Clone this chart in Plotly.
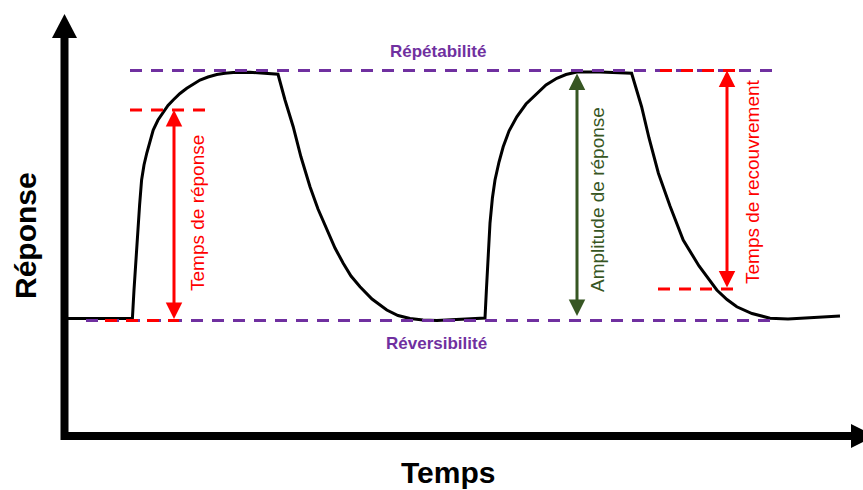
import plotly.graph_objects as go

# ---- sensor response over two exposure cycles (time in s, response in % of full amplitude)
time_s = [0.5, 17.1, 17.5, 17.9, 18.25, 18.9, 19.4, 20.0, 20.7, 21.5, 22.3, 23.5, 24.8, 26.0,
          27.3, 29.0, 30.7, 32.25, 34.0, 36.0, 38.2, 40.25, 42.3, 46.5, 50.25, 53.5,
          55.25, 57.3, 59.25, 61.5, 63.5, 65.7, 67.75, 69.8, 71.75, 74.0, 77.0, 80.7, 83.5,
          86.5, 89.75, 93.2, 99.0, 105.25,
          105.6, 106.0, 106.5, 107.1, 107.75, 108.75, 109.8, 111.25, 113.2, 115.5, 118.2,
          120.5, 123.2, 125.5, 128.2, 134.0, 141.9,
          143.0, 144.4, 146.25, 148.6, 151.5, 154.8, 158.75, 163.2, 165.75, 168.2, 172.0,
          176.5, 181.0, 185.7, 189.75, 194.0]
response = [0.8, 0.8, 12.2, 23.4, 32.2, 46.2, 56.2, 62.2, 67.0, 72.2, 76.2, 80.2, 83.5, 86.0,
            88.2, 90.8, 92.9, 94.6, 96.2, 97.4, 98.4, 98.9, 99.2, 99.3, 99.0, 98.5,
            88.2, 77.5, 65.4, 53.5, 44.6, 36.2, 29.0, 22.9, 17.8, 13.5, 8.6, 4.2, 2.0,
            0.8, 0.2, 0.0, 0.4, 1.0,
            12.2, 24.2, 39.0, 49.0, 56.2, 63.4, 69.5, 75.8, 81.5, 86.6, 90.9,
            94.2, 96.9, 98.4, 99.4, 99.4, 98.9,
            93.0, 85.5, 73.0, 58.9, 45.8, 32.2, 21.8, 12.2, 8.4, 5.5, 2.8,
            0.9, 0.6, 1.0, 1.4, 1.8]

# reference levels
repeat_level = 100.0      # Répétabilité
revers_level = 0.0        # Réversibilité
repeat_span = [16.5, 177.75]
revers_span = [5.5, 178.25]

# response-time markers
resp_top_level = 84.2
resp_top_span = [16.5, 35.25]
resp_bot_span = [10.25, 28.75]
resp_arrow_t = 27.5

# recovery-time markers
recov_top_span = [149.0, 168.25]
recov_bot_level = 12.6
recov_bot_span = [148.5, 167.25]
recov_arrow_t = 165.75

# amplitude marker
ampl_arrow_t = 128.25
ampl_span = [1.2, 98.8]

W, H = 863, 490
PURPLE = "#7030A0"
RED = "#FF0000"
GREEN = "#375623"
FONT = "Liberation Sans, Arial, sans-serif"


def px(x):
    return x / W


def py(y):
    return 1 - y / H


fig = go.Figure()

fig.add_trace(go.Scatter(x=time_s, y=response, mode="lines",
                         line=dict(color="black", width=3), hoverinfo="skip"))

for span, lvl in [(repeat_span, repeat_level), (revers_span, revers_level)]:
    fig.add_trace(go.Scatter(x=span, y=[lvl, lvl], mode="lines",
                             line=dict(color=PURPLE, width=3, dash="12px,9px"),
                             hoverinfo="skip"))

for span, lvl in [(resp_top_span, resp_top_level), (resp_bot_span, revers_level),
                  (recov_top_span, repeat_level), (recov_bot_span, recov_bot_level)]:
    fig.add_trace(go.Scatter(x=span, y=[lvl, lvl], mode="lines",
                             line=dict(color=RED, width=3, dash="12px,9px"),
                             hoverinfo="skip"))


def double_arrow(t, y0, y1, color):
    fig.add_annotation(x=t, y=y1, ax=t, ay=y0, xref="x", yref="y", axref="x", ayref="y",
                       text="", showarrow=True, arrowside="end+start",
                       arrowhead=2, startarrowhead=2, arrowsize=1.1, startarrowsize=1.1,
                       arrowwidth=3, arrowcolor=color, standoff=0, startstandoff=0)


double_arrow(resp_arrow_t, revers_level, resp_top_level, RED)
double_arrow(recov_arrow_t, recov_bot_level, repeat_level, RED)
double_arrow(ampl_arrow_t, ampl_span[0], ampl_span[1], GREEN)


def label(x, y, text, size, color, ref="x", angle=0):
    yref = "y" if ref == "x" else "paper"
    fig.add_annotation(x=x, y=y, xref=ref, yref=yref, text=text, textangle=angle,
                       showarrow=False, xanchor="center", yanchor="middle",
                       font=dict(family=FONT, size=size, color=color))


# rotated annotation labels
label(33.25, 43.0, "Temps de réponse", 19, RED, angle=-90)
label(133.25, 48.2, "Amplitude de réponse", 19, GREEN, angle=-90)
label(172.0, 55.4, "Temps de recouvrement", 19, RED, angle=-90)

label(px(438), py(51), "<b>Répétabilité</b>", 17, PURPLE, ref="paper")
label(px(436), py(343), "<b>Réversibilité</b>", 17, PURPLE, ref="paper")

# axis titles
label(px(448), py(472), "<b>Temps</b>", 30, "black", ref="paper")
label(px(25), py(236), "<b>Réponse</b>", 30, "black", ref="paper", angle=-90)

# hand-drawn style axes with arrowheads
axis_path = f"M {px(64.5)} {py(37)} L {px(64.5)} {py(436)} L {px(852)} {py(436)}"
fig.add_shape(type="path", path=axis_path, xref="paper", yref="paper",
              line=dict(color="black", width=8), fillcolor="rgba(0,0,0,0)", layer="above")
y_head = f"M {px(52)} {py(38)} L {px(77)} {py(38)} L {px(64.5)} {py(14)} Z"
x_head = f"M {px(851)} {py(424)} L {px(851)} {py(448)} L {px(875)} {py(436)} Z"
for p in (y_head, x_head):
    fig.add_shape(type="path", path=p, xref="paper", yref="paper",
                  line=dict(color="black", width=0), fillcolor="black", layer="above")

# axis ranges chosen so that t=0 sits on the drawn vertical axis
fig.update_xaxes(visible=False, range=[-16, 199.75], fixedrange=True)
fig.update_yaxes(visible=False, range=[-67.8, 128.2], fixedrange=True)
fig.update_layout(width=W, height=H, margin=dict(l=0, r=0, t=0, b=0),
                  paper_bgcolor="white", plot_bgcolor="white", showlegend=False)

fig.write_html("out.html")
